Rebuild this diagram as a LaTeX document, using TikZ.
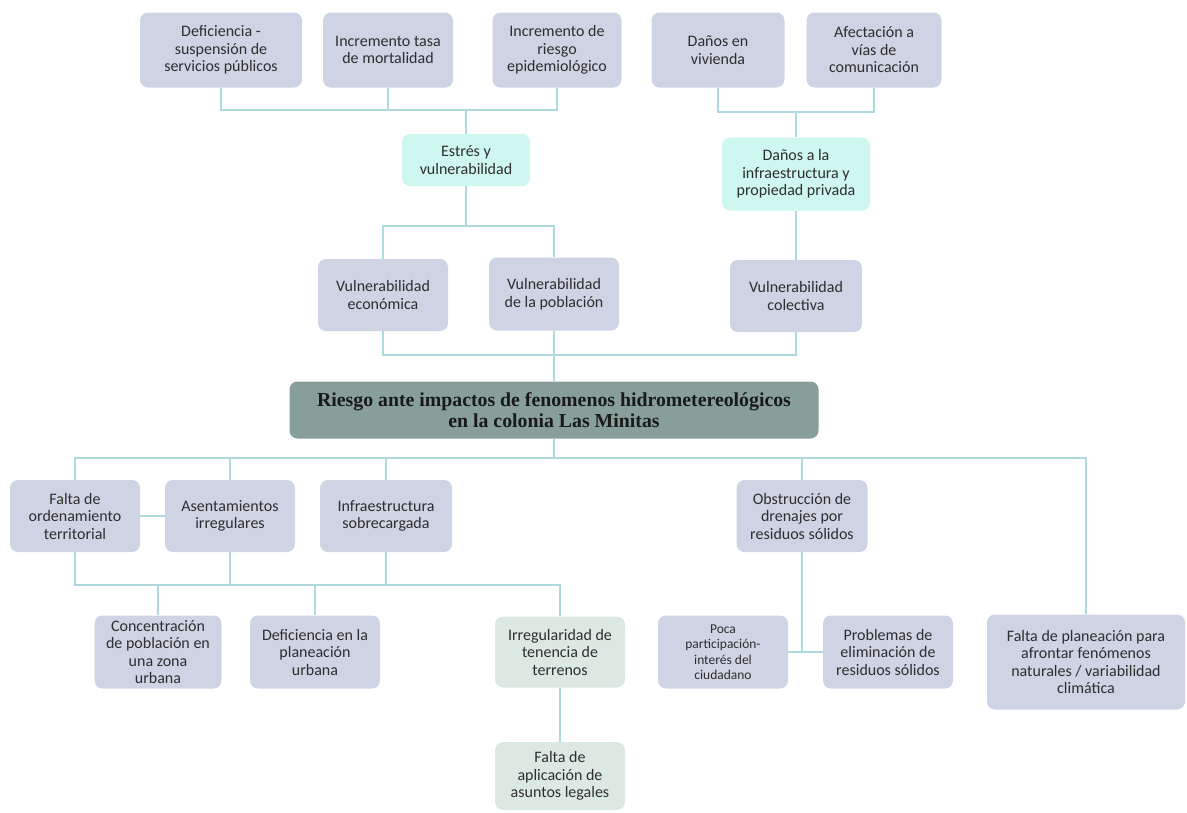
\documentclass[tikz,border=0pt]{standalone}
\usepackage{fontspec}
\setmainfont{Carlito}
\newfontfamily\titlefont{Liberation Serif}
\usepackage{tikz}
\usetikzlibrary{positioning,calc}
\definecolor{boxgray}{HTML}{CED4E3}
\definecolor{boxcyan}{HTML}{CDF7EF}
\definecolor{boxgreen}{HTML}{DCE9E3}
\definecolor{coregray}{HTML}{889E9A}
\definecolor{linkblue}{HTML}{ADD9DF}
\definecolor{textdark}{HTML}{2E2E2E}
\tikzset{
  cause/.style={
    fill=boxgray,
    rounded corners=8pt,
    align=center,
    inner sep=2pt,
    minimum width=130pt,
    minimum height=73pt,
    text=textdark,
    font=\fontsize{16}{17.5}\selectfont
  },
  effect/.style={
    cause,
    fill=boxcyan
  },
  legal box/.style={
    cause,
    fill=boxgreen
  },
  core/.style={
    fill=coregray,
    rounded corners=8pt,
    align=center,
    minimum width=529pt,
    minimum height=57pt,
    text=black!90,
    font=\titlefont\bfseries\fontsize{19.8}{21.5}\selectfont
  },
  link/.style={
    draw=linkblue,
    line width=1.1pt
  }
}

\begin{document}
\begin{tikzpicture}[x=1pt, y=-1pt]
 \useasboundingbox (0,0) rectangle (1187,812);

 % efectos
 \node[cause, minimum width=162pt, minimum height=75pt] (defic) at (221,50) {Deficiencia -\\suspensión de\\servicios públicos};
 \node[cause, minimum height=75pt] (mortal) at (388,50) {Incremento tasa\\de mortalidad};
 \node[cause, minimum width=129pt, minimum height=75pt] (riesgo) at (557,50) {Incremento de\\riesgo\\epidemiológico};
 \node[cause, minimum width=133pt, minimum height=75pt] (vivienda) at (718,50) {Daños en\\vivienda};
 \node[cause, minimum width=135pt, minimum height=75pt] (afect) at (874,50) {Afectación a\\vías de\\comunicación};
 \node[effect, minimum width=128pt, minimum height=52pt] (estres) at (466,160) {Estrés y\\vulnerabilidad};
 \node[effect, minimum width=148pt] (danos) at (796,174) {Daños a la\\infraestructura y\\propiedad privada};
 \node[cause, minimum height=72pt] (econ) at (383,295) {Vulnerabilidad\\económica};
 \node[cause] (pobl) at (554,294) {Vulnerabilidad\\de la población};
 \node[cause, minimum width=132pt, minimum height=72pt] (colect) at (796,296) {Vulnerabilidad\\colectiva};

 % problema central
 \node[core] (main) at (554,410) {Riesgo ante impactos de fenomenos hidrometereológicos\\en la colonia Las Minitas};

 % causas
 \node[cause, minimum height=72pt] (ford) at (75,516) {Falta de\\ordenamiento\\territorial};
 \node[cause, minimum height=72pt] (asent) at (230,516) {Asentamientos\\irregulares};
 \node[cause, minimum width=132pt, minimum height=72pt] (infra) at (386,516) {Infraestructura\\sobrecargada};
 \node[cause, minimum width=131pt, minimum height=72pt] (obstr) at (802,516) {Obstrucción de\\drenajes por\\residuos sólidos};
 \node[cause, minimum width=127pt] (conc) at (158,652) {Concentración\\de población en\\una zona\\urbana};
 \node[cause] (defpl) at (315,652) {Deficiencia en la\\planeación\\urbana};
 \node[legal box, minimum height=71pt] (irreg) at (560,652) {Irregularidad de\\tenencia de\\terrenos};
 \node[cause, font=\fontsize{13.5}{15.5}\selectfont] (poca) at (723,652) {Poca\\participación-\\interés del\\ciudadano};
 \node[cause] (probl) at (888,652) {Problemas de\\eliminación de\\residuos sólidos};
 \node[cause, minimum width=198pt, minimum height=95pt] (fplan) at (1086,662) {Falta de planeación para\\afrontar fenómenos\\naturales / variabilidad\\climática};
 \node[legal box, minimum height=68pt] (legal) at (560,776) {Falta de\\aplicación de\\asuntos legales};

 \coordinate (j_top) at (468,110);
 \coordinate (j_dan) at (796,112);
 \coordinate (j_vuln) at (468,226);
 \coordinate (j_low) at (554,355);
 \coordinate (j_main) at (554,458);
 \coordinate (j_left) at (300,585);

 % conectores
 \draw[link] (defic.south) |- (riesgo.south |- j_top) -- (riesgo.south);
 \draw[link] (mortal.south) -- (mortal.south |- j_top);
 \draw[link] (estres.north) -- (estres.north |- j_top);
 \draw[link] (vivienda.south) |- (afect.south |- j_dan) -- (afect.south);
 \draw[link] (danos.north) -- (danos.north |- j_dan);
 \draw[link] (estres.south) -- (estres.south |- j_vuln);
 \draw[link] (econ.north) |- (pobl.north |- j_vuln) -- (pobl.north);
 \draw[link] (danos.south) -- (colect.north);
 \draw[link] (econ.south) |- (colect.south |- j_low) -- (colect.south);
 \draw[link] (pobl.south) -- (main.north);
 \draw[link] (main.south) -- (main.south |- j_main);
 \draw[link] (ford.north) |- (fplan.north |- j_main) -- (fplan.north);
 \draw[link] (asent.north) -- (asent.north |- j_main);
 \draw[link] (infra.north) -- (infra.north |- j_main);
 \draw[link] (obstr.north) -- (obstr.north |- j_main);
 \draw[link] (ford.east) -- (asent.west);
 \draw[link] (ford.south) |- (irreg.north |- j_left) -- (irreg.north);
 \draw[link] (asent.south) -- (asent.south |- j_left);
 \draw[link] (infra.south) -- (infra.south |- j_left);
 \draw[link] (conc.north) -- (conc.north |- j_left);
 \draw[link] (defpl.north) -- (defpl.north |- j_left);
 \draw[link] (irreg.south) -- (legal.north);
 \draw[link] (poca.east) -- (probl.west);
 \draw[link] (obstr.south) -- (obstr.south |- poca.east);
\end{tikzpicture}
\end{document}
